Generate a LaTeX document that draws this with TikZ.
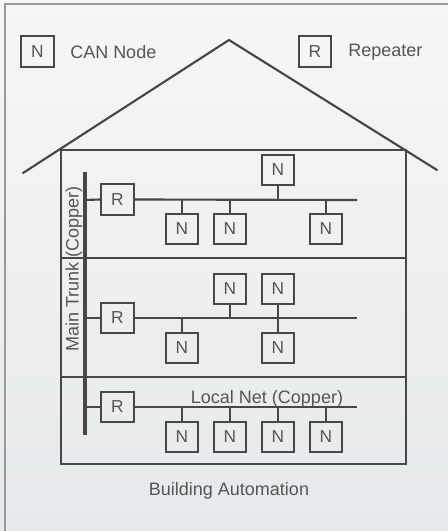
\documentclass[tikz,border=0pt]{standalone}
\usepackage{fontspec}
\setmainfont{Liberation Sans}
\definecolor{ink}{HTML}{474747}
\definecolor{txt}{HTML}{555555}
\definecolor{bgtop}{HTML}{F6F6F6}
\definecolor{bgbot}{HTML}{E6E9EB}
\begin{document}
\begin{tikzpicture}[x=0.75pt,y=-0.75pt,
  every node/.style={font=\fontsize{13.5}{16}\selectfont, text=txt},
  lbl/.style={inner sep=0pt},
  nbox/.style={draw=ink, line width=1.6pt, minimum width=24.5pt, minimum height=23pt, inner sep=0pt, font=\fontsize{13}{15}\selectfont},
  wall/.style={draw=ink, line width=1.6pt},
  bus/.style={draw=ink, line width=1.6pt},
  drop/.style={draw=ink, line width=1.1pt},
  trunk/.style={draw=ink, line width=3pt}]
\useasboundingbox (0,0) rectangle (448,531);
\shade[top color=bgtop, bottom color=bgbot] (0,0) rectangle (448,531);
\draw[draw=gray!80, line width=1.5pt] (5,531) -- (5,4) -- (448,4);

% legend
\node[nbox] (legN) at (37.5,51.5) {N};
\node[lbl, anchor=base west] (legNt) at (70,59) {CAN Node};
\node[nbox] (legR) at (315,51.5) {R};
\node[lbl, anchor=base west] (legRt) at (348,57) {Repeater};

% roof
\coordinate (roofL) at (23,173);
\coordinate (apex) at (229,40);
\coordinate (roofR) at (437,170);
\draw[wall, line cap=round] (roofL) -- (apex) -- (roofR);

% house
\coordinate (hTL) at (61,150);
\coordinate (hBR) at (406,464);
\draw[wall] (hTL) rectangle (hBR);
\coordinate (f1L) at (61,258);
\coordinate (f1R) at (406,258);
\coordinate (f2L) at (61,377);
\coordinate (f2R) at (406,377);
\draw[wall] (f1L) -- (f1R);
\draw[wall] (f2L) -- (f2R);

% trunk
\coordinate (tTop) at (85,172);
\coordinate (tBot) at (85,435);
\draw[trunk] (tTop) -- (tBot);
\node[lbl, rotate=90] (trunklabel) at (74,269) {Main Trunk (Copper)};

% floor 1
\node[nbox] (r1) at (117.5,199.5) {R};
\coordinate (b1L) at (85,200);
\coordinate (b1R) at (357,200);
\draw[bus] (b1L) -- (r1.west);
\draw[bus] (r1.east) -- (b1R);
\node[nbox] (n11) at (278,170) {N};
\node[nbox] (n12) at (182,229) {N};
\node[nbox] (n13) at (230,229) {N};
\node[nbox] (n14) at (326,229) {N};
\foreach \n in {n11,n12,n13,n14} \draw[drop] (\n) -- (\n |- b1R);

% floor 2
\node[nbox] (r2) at (117.5,318) {R};
\coordinate (b2L) at (85,318);
\coordinate (b2R) at (357,318);
\draw[bus] (b2L) -- (r2.west);
\draw[bus] (r2.east) -- (b2R);
\node[nbox] (n21) at (230,289) {N};
\node[nbox] (n22) at (278,289) {N};
\node[nbox] (n23) at (182,348) {N};
\node[nbox] (n24) at (278,348) {N};
\foreach \n in {n21,n22,n23,n24} \draw[drop] (\n) -- (\n |- b2R);

% floor 3
\node[nbox] (r3) at (117.5,407) {R};
\coordinate (b3L) at (85,407);
\coordinate (b3R) at (357,407);
\draw[bus] (b3L) -- (r3.west);
\draw[bus] (r3.east) -- (b3R);
\node[nbox] (n31) at (182,437) {N};
\node[nbox] (n32) at (230,437) {N};
\node[nbox] (n33) at (278,437) {N};
\node[nbox] (n34) at (326,437) {N};
\foreach \n in {n31,n32,n33,n34} \draw[drop] (\n) -- (\n |- b3R);
\node[lbl, anchor=base] (locallabel) at (267,403) {Local Net (Copper)};

\node[lbl, anchor=base] (title) at (229,495) {Building Automation};
\end{tikzpicture}
\end{document}
